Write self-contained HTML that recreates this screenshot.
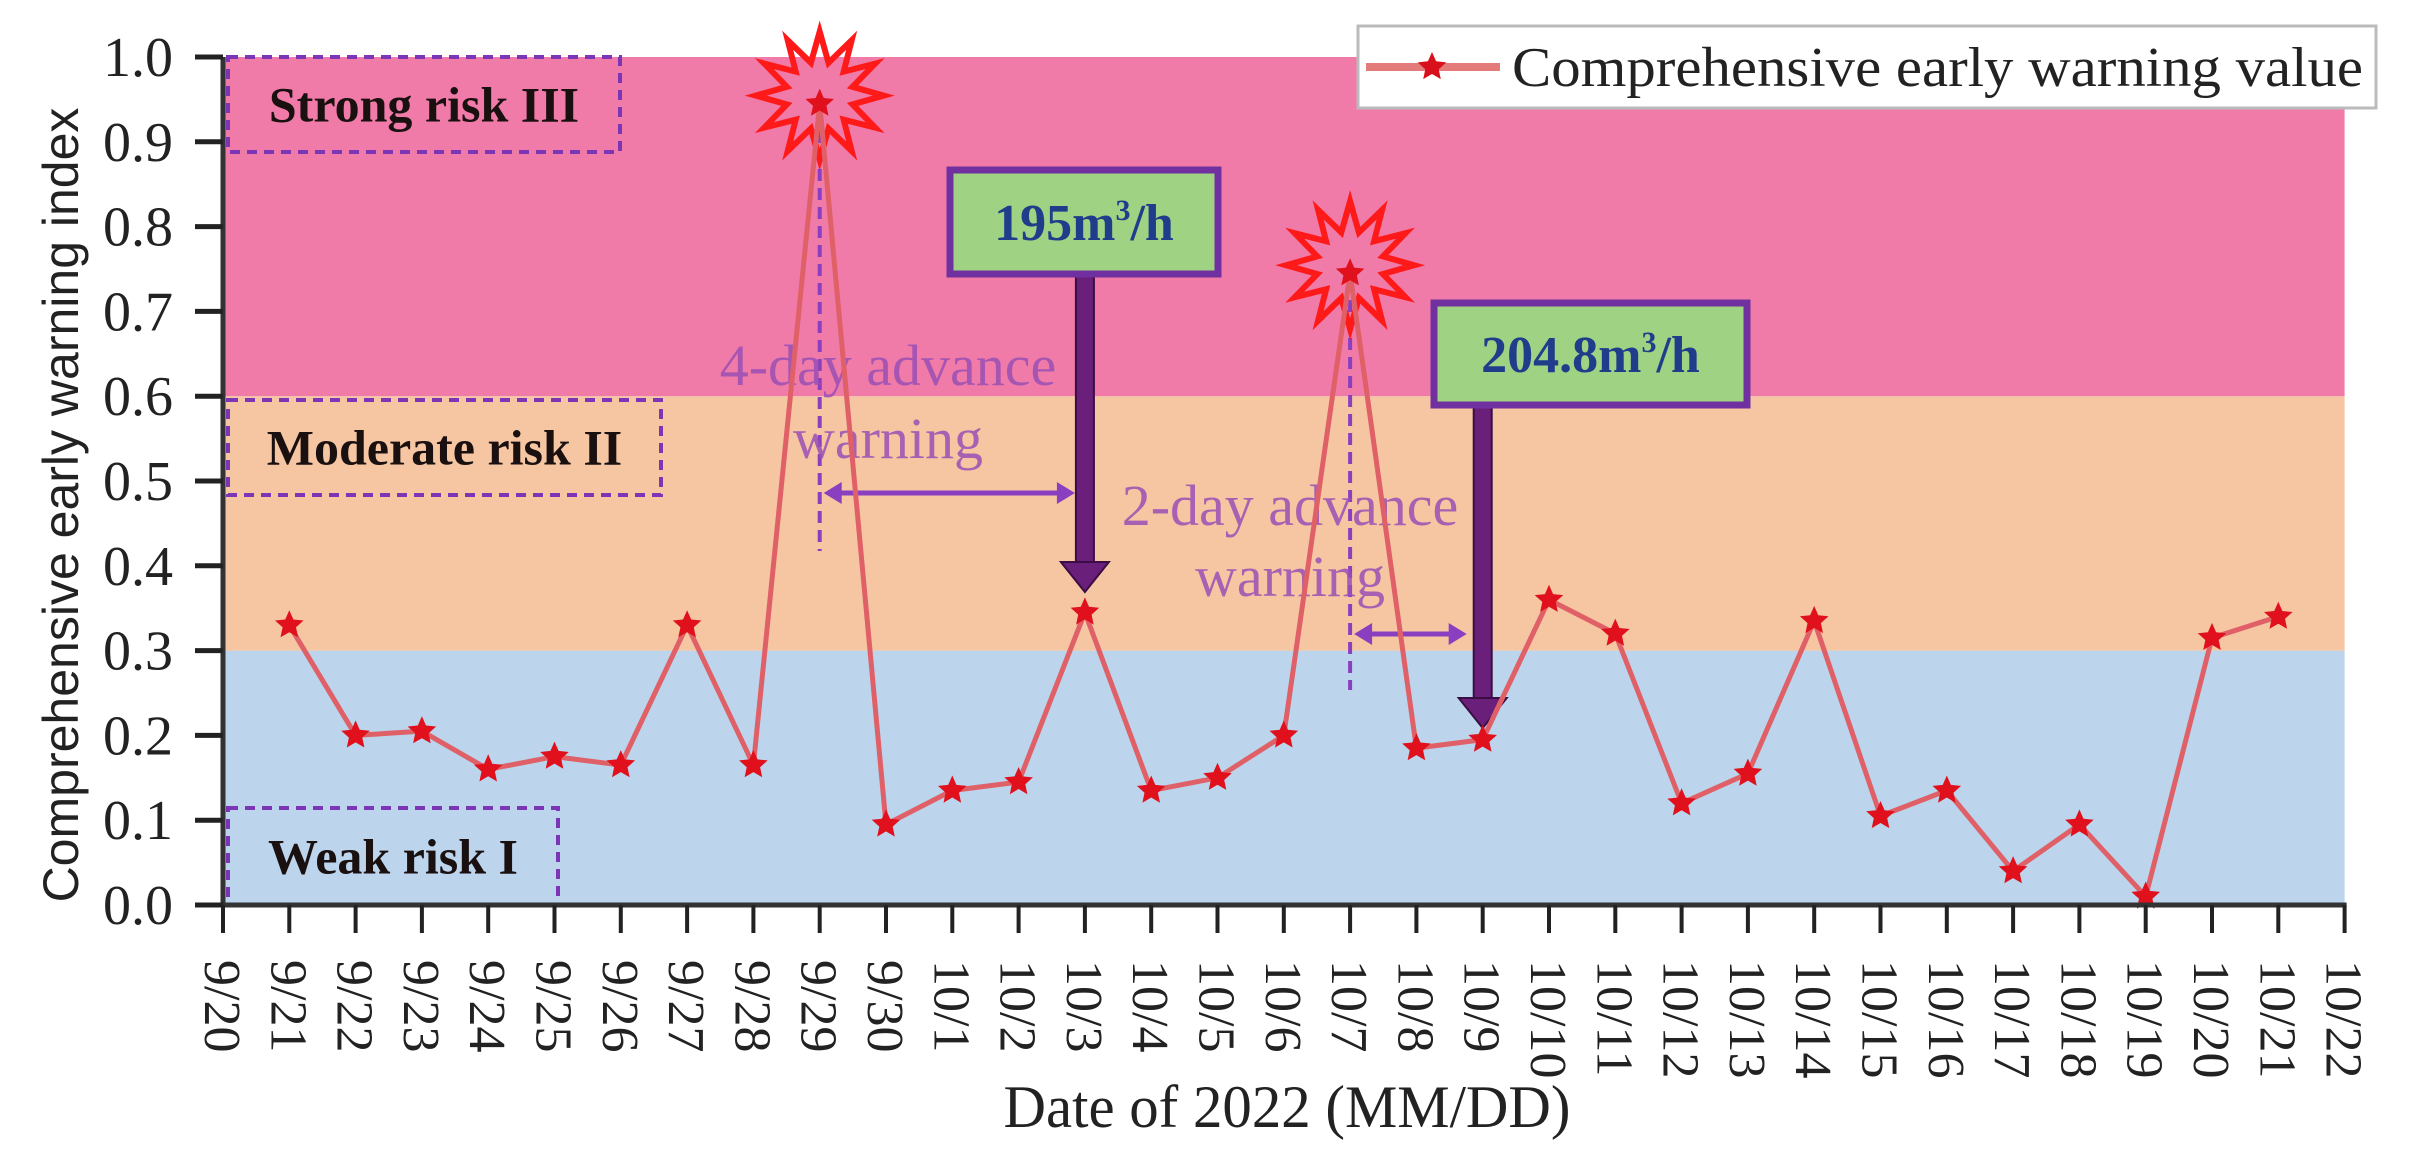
<!DOCTYPE html>
<html><head><meta charset="utf-8"><style>
html,body{margin:0;padding:0;background:#fff;}
svg{display:block;font-family:"Liberation Serif",serif;}
</style></head><body>
<svg id="chart" width="2409" height="1170" viewBox="0 0 2409 1170" xmlns="http://www.w3.org/2000/svg">
<g id="bands"></g>
<g id="boxes"></g>
<g id="annot"></g>
<g id="series"></g>
<g id="axes"></g>
<g id="legend">
  <rect x="1358" y="26" width="1018" height="82" fill="#fff" stroke="#bbb" stroke-width="3"/>
  <line x1="1366" y1="67" x2="1500" y2="67" stroke="#e37b7b" stroke-width="8"/>
  <polygon id="legstar" fill="#d8101c"/>
  <text x="1512" y="86" font-size="56" textLength="851" lengthAdjust="spacingAndGlyphs" fill="#222">Comprehensive early warning value</text>
</g>
</svg>
<script>
const categories = ["9/20","9/21","9/22","9/23","9/24","9/25","9/26","9/27","9/28","9/29","9/30","10/1","10/2","10/3","10/4","10/5","10/6","10/7","10/8","10/9","10/10","10/11","10/12","10/13","10/14","10/15","10/16","10/17","10/18","10/19","10/20","10/21","10/22"];
const seriesDates = ["9/21","9/22","9/23","9/24","9/25","9/26","9/27","9/28","9/29","9/30","10/1","10/2","10/3","10/4","10/5","10/6","10/7","10/8","10/9","10/10","10/11","10/12","10/13","10/14","10/15","10/16","10/17","10/18","10/19","10/20","10/21"];
const seriesValues = [0.33,0.20,0.205,0.16,0.175,0.165,0.33,0.165,0.945,0.095,0.135,0.145,0.345,0.135,0.15,0.20,0.745,0.185,0.195,0.36,0.32,0.12,0.155,0.335,0.105,0.135,0.04,0.095,0.01,0.315,0.34];
const yTicks = [0.0,0.1,0.2,0.3,0.4,0.5,0.6,0.7,0.8,0.9,1.0];
const bandLimits = [0.0,0.3,0.6,1.0];
const bandNames = ["weak","moderate","strong"];

const NS="http://www.w3.org/2000/svg";
const X0=223, DX=66.3, Y0=905, YS=848;
function xs(c){return X0+categories.indexOf(c)*DX;}
function ys(v){return Y0-v*YS;}
function mk(tag,attrs,parent){const e=document.createElementNS(NS,tag);for(const k in attrs)e.setAttribute(k,attrs[k]);parent.appendChild(e);return e;}
function starPts(cx,cy,ro,ri,n){let p=[];for(let i=0;i<2*n;i++){const r=i%2?ri:ro;const a=-Math.PI/2+i*Math.PI/n;p.push((cx+r*Math.cos(a)).toFixed(1)+","+(cy+r*Math.sin(a)).toFixed(1));}return p.join(" ");}

const bands=document.getElementById("bands");
const bandColors=["#bcd5ec","#f6c6a2","#f07ba8"];
for(let i=0;i<3;i++){
  const r=mk("rect",{x:X0,y:ys(bandLimits[i+1]),width:categories.length*DX-DX,height:ys(bandLimits[i])-ys(bandLimits[i+1]),fill:bandColors[i]},bands);
  
  
}

const boxes=document.getElementById("boxes");
const boxDefs=[["strong-risk-label",228,ys(1.0),392,95,"Strong risk III"],["moderate-risk-label",228,400,433,95,"Moderate risk II"],["weak-risk-label",228,808,330,97,"Weak risk I"]];
boxDefs.forEach(b=>{
  const g=mk("g",{},boxes);
  
  
  mk("rect",{x:b[1],y:b[2],width:b[3],height:b[4],fill:"none",stroke:"#7b35b5","stroke-width":4,"stroke-dasharray":"10 7"},g);
  const t=mk("text",{x:b[1]+b[3]/2,y:b[2]+b[4]/2+17,"text-anchor":"middle","font-size":50,"font-weight":"bold",fill:"#1a1010"},g);
  t.textContent=b[5];
});

const annot=document.getElementById("annot");
[["9/29",112,551],["10/7",300,690]].forEach(d=>{
  const l=mk("line",{x1:xs(d[0]),x2:xs(d[0]),y1:d[1],y2:d[2],stroke:"#8a3fc0","stroke-width":4,"stroke-dasharray":"12 7"},annot);
  
  
});
function dArrow(x1,x2,y,name){
  const g=mk("g",{},annot);
  
  
  mk("line",{x1:x1+10,x2:x2-10,y1:y,y2:y,stroke:"#8a3fc0","stroke-width":5},g);
  mk("polygon",{points:`${x1},${y} ${x1+18},${y-11} ${x1+18},${y+11}`,fill:"#8a3fc0"},g);
  mk("polygon",{points:`${x2},${y} ${x2-18},${y-11} ${x2-18},${y+11}`,fill:"#8a3fc0"},g);
}
dArrow(xs("9/29")+4,xs("10/3")-10,493,"four-day-span-arrow");
dArrow(xs("10/7")+4,xs("10/9")-16,634,"two-day-span-arrow");
function txt(x,y,s,name){const t=mk("text",{x:x,y:y,"text-anchor":"middle","font-size":58,fill:"#9a4fb5","fill-opacity":0.85},annot);t.textContent=s;}
txt(888,385,"4-day advance","four-day-warning-text");
txt(888,458,"warning","four-day-warning-text-2");
txt(1290,525,"2-day advance","two-day-warning-text");
txt(1290,596,"warning","two-day-warning-text-2");
function flowBox(cx,x,y,w,h,yEnd,label,name){
  const g=mk("g",{},annot);
  
  
  mk("rect",{x:cx-9,y:y+h,width:18,height:yEnd-(y+h)-28,fill:"#6a1f7a",stroke:"#3a0d45","stroke-width":2},g);
  mk("polygon",{points:`${cx-24},${yEnd-30} ${cx+24},${yEnd-30} ${cx},${yEnd}`,fill:"#6a1f7a",stroke:"#3a0d45","stroke-width":2},g);
  mk("rect",{x:x,y:y,width:w,height:h,fill:"#9fd283",stroke:"#7030a0","stroke-width":7},g);
  const t=mk("text",{x:x+w/2,y:y+h/2+18,"text-anchor":"middle","font-size":52,"font-weight":"bold",fill:"#1f3d8a"},g);
  t.innerHTML=label;
}
flowBox(xs("10/3"),950,170,268,104,592,'195m<tspan font-size="30" dy="-20">3</tspan><tspan dy="20">/h</tspan>',"flow-195-callout");
flowBox(xs("10/9"),1434,303,313,102,728,'204.8m<tspan font-size="30" dy="-20">3</tspan><tspan dy="20">/h</tspan>',"flow-204-callout");

const series=document.getElementById("series");
const pts=seriesDates.map((d,i)=>[xs(d),ys(seriesValues[i])]);
[8,16].forEach(i=>{
  const b=mk("polygon",{points:starPts(pts[i][0],pts[i][1]-8,64,34,12),fill:"none",stroke:"#ff1a1a","stroke-width":6},series);
  
  
});
const pl=mk("polyline",{points:pts.map(p=>p.join(",")).join(" "),fill:"none",stroke:"#e06068","stroke-width":5,"stroke-linejoin":"round"},series);


pts.forEach((p,i)=>{
  const s=mk("polygon",{points:starPts(p[0],p[1],15,7,5),fill:"#e0101c"},series);
  
  
});

const axes=document.getElementById("axes");
const xEnd=xs(categories[categories.length-1]);
const ax=mk("line",{x1:X0,x2:xEnd+2,y1:Y0,y2:Y0,stroke:"#333","stroke-width":5},axes);


const ay=mk("line",{x1:X0,x2:X0,y1:ys(1.0),y2:Y0+2,stroke:"#333","stroke-width":5},axes);


yTicks.forEach(v=>{
  mk("line",{x1:X0-28,x2:X0,y1:ys(v),y2:ys(v),stroke:"#222","stroke-width":5},axes);
  const t=mk("text",{x:173,y:ys(v)+19,"text-anchor":"end","font-size":56,fill:"#222"},axes);
  t.textContent=v.toFixed(1);
  
  
});
categories.forEach(c=>{
  const x=xs(c);
  mk("line",{x1:x,x2:x,y1:Y0,y2:Y0+28,stroke:"#222","stroke-width":4},axes);
  const t=mk("text",{x:0,y:0,"font-size":52,fill:"#222",transform:`translate(${x-18},960) rotate(90)`},axes);
  t.textContent=c;
  
  
});
const xt=mk("text",{x:1287,y:1127,"text-anchor":"middle","font-size":60,textLength:567,lengthAdjust:"spacingAndGlyphs",fill:"#222"},axes);
xt.textContent="Date of 2022 (MM/DD)";


const yt=mk("text",{x:0,y:0,"text-anchor":"middle","font-size":50,"font-family":"Liberation Sans, sans-serif",fill:"#222",transform:"translate(78,505) rotate(-90)"},axes);
yt.textContent="Comprehensive early warning index";



document.getElementById("legstar").setAttribute("points",starPts(1432,67,15,7,5));
</script>
</body></html>
